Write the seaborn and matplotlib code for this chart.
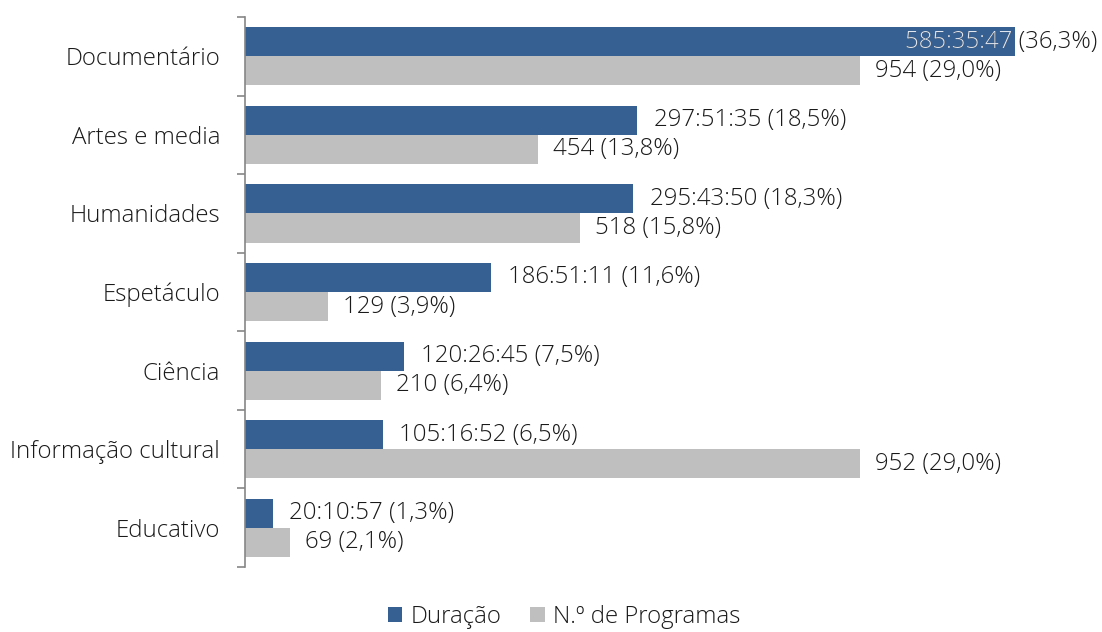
import matplotlib
matplotlib.use("Agg")
import matplotlib.pyplot as plt
import matplotlib.transforms as mtransforms
from matplotlib.patches import Patch
import seaborn as sns
import pandas as pd

categories = ["Documentário", "Artes e media", "Humanidades", "Espetáculo",
              "Ciência", "Informação cultural", "Educativo"]
dur_pct = [36.3, 18.5, 18.3, 11.6, 7.5, 6.5, 1.3]
dur_time = ["585:35:47", "297:51:35", "295:43:50", "186:51:11",
            "120:26:45", "105:16:52", "20:10:57"]
prog_count = [954, 454, 518, 129, 210, 952, 69]
prog_pct = [29.0, 13.8, 15.8, 3.9, 6.4, 29.0, 2.1]
series = ["Duração", "N.º de Programas"]

BLUE = "#376092"
GRAY = "#BFBFBF"
TXT = "#1a1a1a"
AXC = "#868686"

sns.set_theme(style="white")
plt.rcParams["font.family"] = ["Open Sans", "DejaVu Sans"]
plt.rcParams["font.weight"] = "light"

df = pd.DataFrame({
    "cat": categories * 2,
    "pct": dur_pct + prog_pct,
    "serie": [series[0]] * len(categories) + [series[1]] * len(categories),
})

fig = plt.figure(figsize=(11.02, 6.32), dpi=100)
ax = fig.add_axes([245 / 1102, 1 - 567 / 632, (1093 - 245) / 1102, (567 - 17) / 632])

sns.barplot(data=df, y="cat", x="pct", hue="serie", orient="h",
            palette=[BLUE, GRAY], width=0.74, gap=0, ax=ax, legend=False,
            saturation=1, errorbar=None, linewidth=0)

ax.set_xlim(0, 40)
ax.set_ylim(len(categories) - 0.5, -0.5)
ax.set_xlabel("")
ax.set_ylabel("")
ax.set_xticks([])
for s in ["top", "right", "bottom"]:
    ax.spines[s].set_visible(False)
ax.spines["left"].set_color(AXC)
ax.spines["left"].set_linewidth(1.2)

fs = 17.3
ax.set_yticks(range(len(categories)))
ax.set_yticklabels(categories, fontsize=fs, color=TXT)
ax.tick_params(axis="y", which="major", left=False, length=0, pad=18)
ax.set_yticks([i - 0.5 for i in range(len(categories) + 1)], minor=True)
ax.tick_params(axis="y", which="minor", left=True, length=6, width=1.2,
               color=AXC, direction="out")

blue_bars = ax.containers[0]
gray_bars = ax.containers[1]
xmax_idx = dur_pct.index(max(dur_pct))
for i, bar in enumerate(blue_bars):
    yc = bar.get_y() + bar.get_height() / 2
    label = f"{dur_time[i]} ({dur_pct[i]:.1f}%)".replace(".", ",")
    if i == xmax_idx:
        trans = mtransforms.blended_transform_factory(ax.transAxes, ax.transData)
        ax.annotate(label, xy=(1.0, yc), xycoords=trans, xytext=(3, 0),
                    textcoords="offset points", ha="right", va="center",
                    fontsize=fs, color=TXT, annotation_clip=False)
        t2 = ax.annotate(label, xy=(1.0, yc), xycoords=trans, xytext=(3, 0),
                         textcoords="offset points", ha="right", va="center",
                         fontsize=fs, color="#dfe6f0", annotation_clip=False)
        t2.set_clip_path(bar)
    else:
        ax.annotate(label, xy=(bar.get_width(), yc), xytext=(12, 0),
                    textcoords="offset points", ha="left", va="center",
                    fontsize=fs, color=TXT)
for i, bar in enumerate(gray_bars):
    yc = bar.get_y() + bar.get_height() / 2
    label = f"{prog_count[i]} ({prog_pct[i]:.1f}%)".replace(".", ",")
    ax.annotate(label, xy=(bar.get_width(), yc), xytext=(11, 0),
                textcoords="offset points", ha="left", va="center",
                fontsize=fs, color=TXT)

handles = [Patch(facecolor=BLUE, edgecolor="none"), Patch(facecolor=GRAY, edgecolor="none")]
leg = fig.legend(handles, series, loc="lower center", bbox_to_anchor=(0.512, -0.022),
                 ncol=2, frameon=False, fontsize=fs, handlelength=0.6,
                 handleheight=0.6, handletextpad=0.35, columnspacing=1.2,
                 borderpad=0.2)
for t in leg.get_texts():
    t.set_color(TXT)

fig.savefig("out.png", dpi=100)
